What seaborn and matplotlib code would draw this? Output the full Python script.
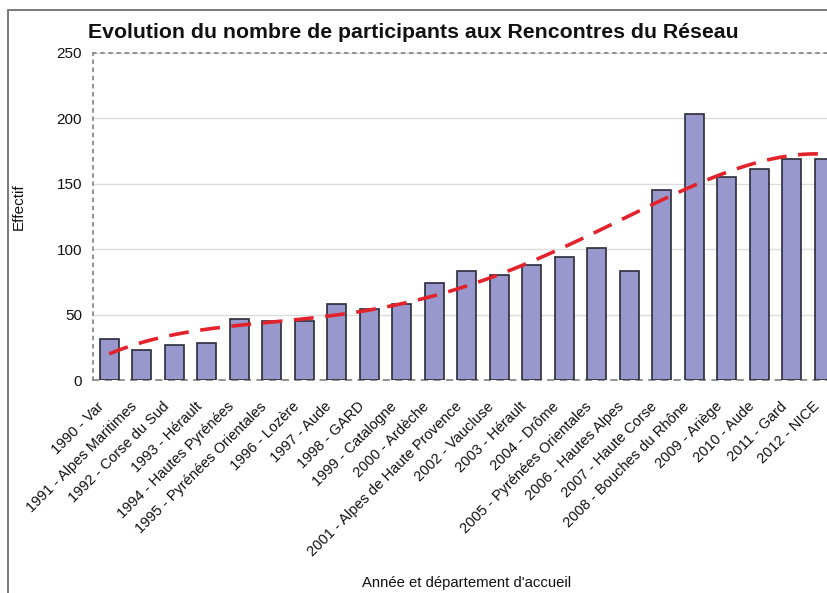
import numpy as np
import pandas as pd
import matplotlib
matplotlib.use("Agg")
import matplotlib.pyplot as plt
from matplotlib.lines import Line2D
from matplotlib.transforms import ScaledTranslation
import seaborn as sns

sns.set_theme(style="white")
plt.rcParams['font.family'] = ['Liberation Sans', 'DejaVu Sans']

# Rencontres: year and host department
editions = [
    "1990 - Var", "1991 - Alpes Maritimes", "1992 - Corse du Sud", "1993 - Hérault",
    "1994 - Hautes Pyrénées", "1995 - Pyrénées Orientales", "1996 - Lozère",
    "1997 - Aude", "1998 - GARD", "1999 - Catalogne", "2000 - Ardèche",
    "2001 - Alpes de Haute Provence", "2002 - Vaucluse", "2003 - Hérault",
    "2004 - Drôme", "2005 - Pyrénées Orientales", "2006 - Hautes Alpes",
    "2007 - Haute Corse", "2008 - Bouches du Rhône", "2009 - Ariège",
    "2010 - Aude", "2011 - Gard", "2012 - NICE",
]
participants = [31, 23, 27, 28, 47, 45, 45, 58, 54, 58, 74,
                83, 80, 88, 94, 101, 83, 145, 203, 155, 161, 169, 169]

df = pd.DataFrame({"edition": editions, "effectif": participants})
df["rang"] = np.arange(len(df))

fig = plt.figure(figsize=(8.28, 5.93), dpi=100)
ax = fig.add_axes([93 / 828, 1 - 380 / 593, 1 - 93 / 828, (380 - 53) / 593])

sns.barplot(data=df, x="edition", y="effectif", ax=ax, color="#9898cc",
            saturation=1, width=0.58, edgecolor="#2b2b3a", linewidth=1.2, zorder=3)

# polynomial trend of the participation
sns.regplot(data=df, x="rang", y="effectif", ax=ax, order=4, ci=None,
            scatter=False, truncate=True,
            line_kws=dict(color="#e3232b", lw=2.6, dashes=(5.5, 3.2), zorder=4))

ax.set_xlim(-0.5, 22.12)
ax.set_ylim(0, 250)
ax.set_yticks([0, 50, 100, 150, 200, 250])
ax.yaxis.grid(True, color="#dcdcdc", lw=1.0, zorder=0)
ax.set_axisbelow(True)

for side in ["top", "left", "bottom"]:
    ax.spines[side].set_visible(True)
    ax.spines[side].set_color("#8a8a8a")
    ax.spines[side].set_linewidth(1.3)
ax.spines["top"].set_linestyle((0, (1.5, 3)))
ax.spines["left"].set_linestyle((0, (1.5, 3)))
ax.spines["bottom"].set_linestyle((0, (3, 4)))
ax.spines["right"].set_visible(False)

ax.tick_params(axis="y", length=0, pad=8, labelsize=11, labelcolor="#111111")
ax.tick_params(axis="x", length=0, pad=14, labelsize=10.5, labelcolor="#111111")
ax.set_xticks(df["rang"])
ax.set_xticklabels(editions, rotation=45, ha="right", va="top",
                   rotation_mode="anchor")
shift = ScaledTranslation(-12 / 100, 0, fig.dpi_scale_trans)
for lab in ax.get_xticklabels():
    lab.set_transform(lab.get_transform() + shift)

ax.set_xlabel("")
ax.set_ylabel("Effectif", fontsize=11, color="#111111")
ax.yaxis.set_label_coords(-0.091, 0.53)

fig.text(467 / 828, 1 - 583 / 593, "Année et département d'accueil",
         ha="center", va="center", fontsize=10.7, color="#111111")
fig.text(88 / 828, 1 - 33 / 593,
         "Evolution du nombre de participants aux Rencontres du Réseau",
         ha="left", va="center", fontsize=15.3, fontweight="bold", color="#111111")

# frame around the figure
fig.add_artist(Line2D([8 / 828, 1], [1 - 10 / 593, 1 - 10 / 593],
                      transform=fig.transFigure, color="#7a7a7a", lw=1.4))
fig.add_artist(Line2D([8 / 828, 8 / 828], [0, 1 - 10 / 593],
                      transform=fig.transFigure, color="#7a7a7a", lw=1.4))

fig.savefig("out.png", dpi=100)
